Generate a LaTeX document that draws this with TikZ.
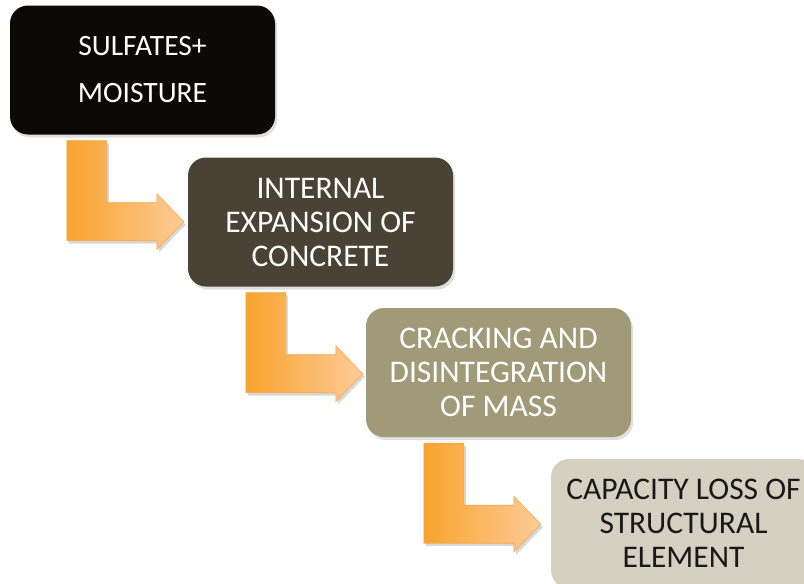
\documentclass[tikz,border=0pt]{standalone}
\usepackage{fontspec}
\setmainfont{Carlito}
\usetikzlibrary{calc,shadows}
\definecolor{boxA}{HTML}{0C0A09}
\definecolor{boxB}{HTML}{4A4235}
\definecolor{boxC}{HTML}{A09A78}
\definecolor{boxD}{HTML}{D6D0C2}
\definecolor{arrL}{HTML}{F9A42E}
\definecolor{arrR}{HTML}{FDCB98}
\definecolor{arrEdge}{HTML}{F7A84A}
\tikzset{
  stagebox/.style={rounded corners=18pt, minimum width=265pt, minimum height=129pt,
    inner sep=0pt, align=center, text=white,
    font=\fontsize{31.5}{34}\selectfont,
    drop shadow={opacity=0.25, shadow xshift=2pt, shadow yshift=-3pt}},
  bendarrow/.style={left color=arrL, right color=arrR, draw=arrEdge, line width=0.6pt,
    drop shadow={opacity=0.3, shadow xshift=2pt, shadow yshift=-3pt}}
}
\newcommand{\lbendarrow}[1]{%
  \begin{scope}[shift={(#1)}]
    \path[bendarrow] (0,0) -- (40,0) -- (40,62) -- (90,62) -- (90,53) -- (117,81)
      -- (90,109) -- (90,100) -- (0,100) -- cycle;
  \end{scope}}
\begin{document}
\begin{tikzpicture}[x=1pt,y=-1pt]
\clip (0,0) rectangle (804,584);
\fill[white] (0,0) rectangle (804,584);
\node[stagebox, fill=boxA, font=\fontsize{29.5}{47}\selectfont] (b1) at (142.5,70) {SULFATES+\\MOISTURE};
\node[stagebox, fill=boxB] (b2) at (320.5,222) {INTERNAL\\EXPANSION OF\\CONCRETE};
\node[stagebox, fill=boxC] (b3) at (498.5,372.5) {CRACKING AND\\DISINTEGRATION\\OF MASS};
\node[stagebox, fill=boxD, text={black!90}] (b4) at (683.5,523.5) {CAPACITY LOSS OF\\STRUCTURAL\\ELEMENT};
\coordinate (s1) at ($(b1.south west)+(57,6)$);
\coordinate (s2) at ($(b2.south west)+(58,6)$);
\coordinate (s3) at ($(b3.south west)+(58,6)$);
\lbendarrow{s1}
\lbendarrow{s2}
\lbendarrow{s3}
\end{tikzpicture}
\end{document}
